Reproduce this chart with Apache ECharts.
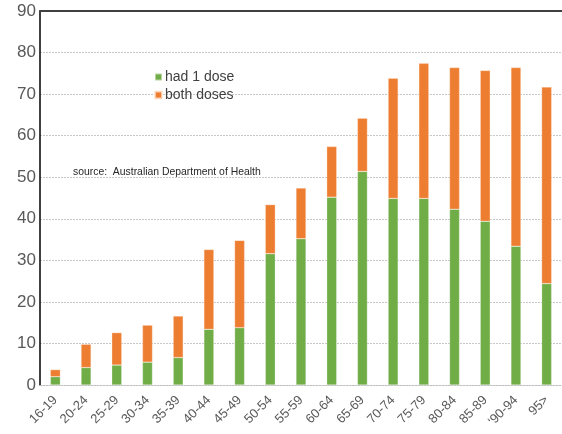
<!DOCTYPE html>
<html>
<head>
<meta charset="utf-8">
<script src="https://cdn.jsdelivr.net/npm/echarts@6/dist/echarts.min.js"></script>
<style>
  html, body { margin: 0; padding: 0; background: #fff; }
  #chart { width: 562px; height: 434px; }
</style>
</head>
<body>
<div id="chart"></div>
<script>
// Age groups
const ageGroups = ['16-19', '20-24', '25-29', '30-34', '35-39', '40-44', '45-49', '50-54', '55-59',
  '60-64', '65-69', '70-74', '75-79', '80-84', '85-89', '\u201890-94', '95>'];
// Percentage with one dose
const hadOneDose = [2.0, 4.2, 4.8, 5.5, 6.6, 13.4, 13.8, 31.6, 35.2, 45.2, 51.4, 44.9, 44.9, 42.3, 39.4, 33.4, 24.4];
// Percentage with at least one dose (top of each bar)
const totalVaccinated = [3.7, 9.8, 12.6, 14.4, 16.6, 32.6, 34.8, 43.4, 47.4, 57.4, 64.2, 73.8, 77.4, 76.4, 75.7, 76.4, 71.7];
// Orange segment = fully vaccinated share stacked on top
const bothDoses = totalVaccinated.map((t, i) => +(t - hadOneDose[i]).toFixed(1));
const yTicks = [0, 10, 20, 30, 40, 50, 60, 70, 80, 90];

const chart = echarts.init(document.getElementById('chart'), null, { renderer: 'canvas' });
chart.setOption({
  animation: false,
  textStyle: { fontFamily: 'Liberation Sans, Arial, sans-serif' },
  grid: { left: 40, right: -1, top: 11, bottom: 49 },
  legend: {
    orient: 'vertical',
    left: 149,
    top: 65,
    itemWidth: 7,
    itemHeight: 7,
    itemGap: 4,
    icon: 'rect',
    textStyle: { fontSize: 14, color: '#404040', padding: [0, 0, 0, -2] },
    data: ['had 1 dose', 'both doses']
  },
  graphic: [{
    type: 'text',
    left: 73,
    top: 167,
    style: {
      text: 'source:  Australian Department of Health',
      fontSize: 10.4,
      fill: '#262626',
      fontFamily: 'Liberation Sans Narrow, Liberation Sans, Arial, sans-serif'
    }
  }],
  xAxis: [{
    type: 'category',
    data: ageGroups,
    axisLine: { show: true, lineStyle: { color: '#c0c0c0', width: 1, type: [2, 1] } },
    axisTick: { show: false },
    axisLabel: { rotate: 45, fontSize: 13, color: '#595959', margin: 13, interval: 0 }
  }, {
    type: 'category',
    position: 'top',
    data: ageGroups,
    axisLine: { show: true, lineStyle: { color: '#404040', width: 2 } },
    axisTick: { show: false },
    axisLabel: { show: false }
  }],
  yAxis: {
    type: 'value',
    min: yTicks[0],
    max: yTicks[yTicks.length - 1],
    interval: 10,
    axisLine: { show: true, lineStyle: { color: '#000', width: 1.5 } },
    axisTick: { show: false },
    axisLabel: { fontSize: 17, color: '#595959', margin: 4 },
    splitLine: { lineStyle: { color: '#c8c8c8', type: [2, 1], width: 1 } }
  },
  series: [{
    name: 'had 1 dose',
    type: 'bar',
    stack: 'vax',
    data: hadOneDose,
    barWidth: 10,
    itemStyle: { color: '#70ad47', borderColor: 'rgba(255,255,255,0.5)', borderWidth: 0.5 }
  }, {
    name: 'both doses',
    type: 'bar',
    stack: 'vax',
    data: bothDoses,
    barWidth: 10,
    itemStyle: { color: '#ed7d31', borderColor: 'rgba(255,230,210,0.7)', borderWidth: 0.5 }
  }]
});
</script>
</body>
</html>
